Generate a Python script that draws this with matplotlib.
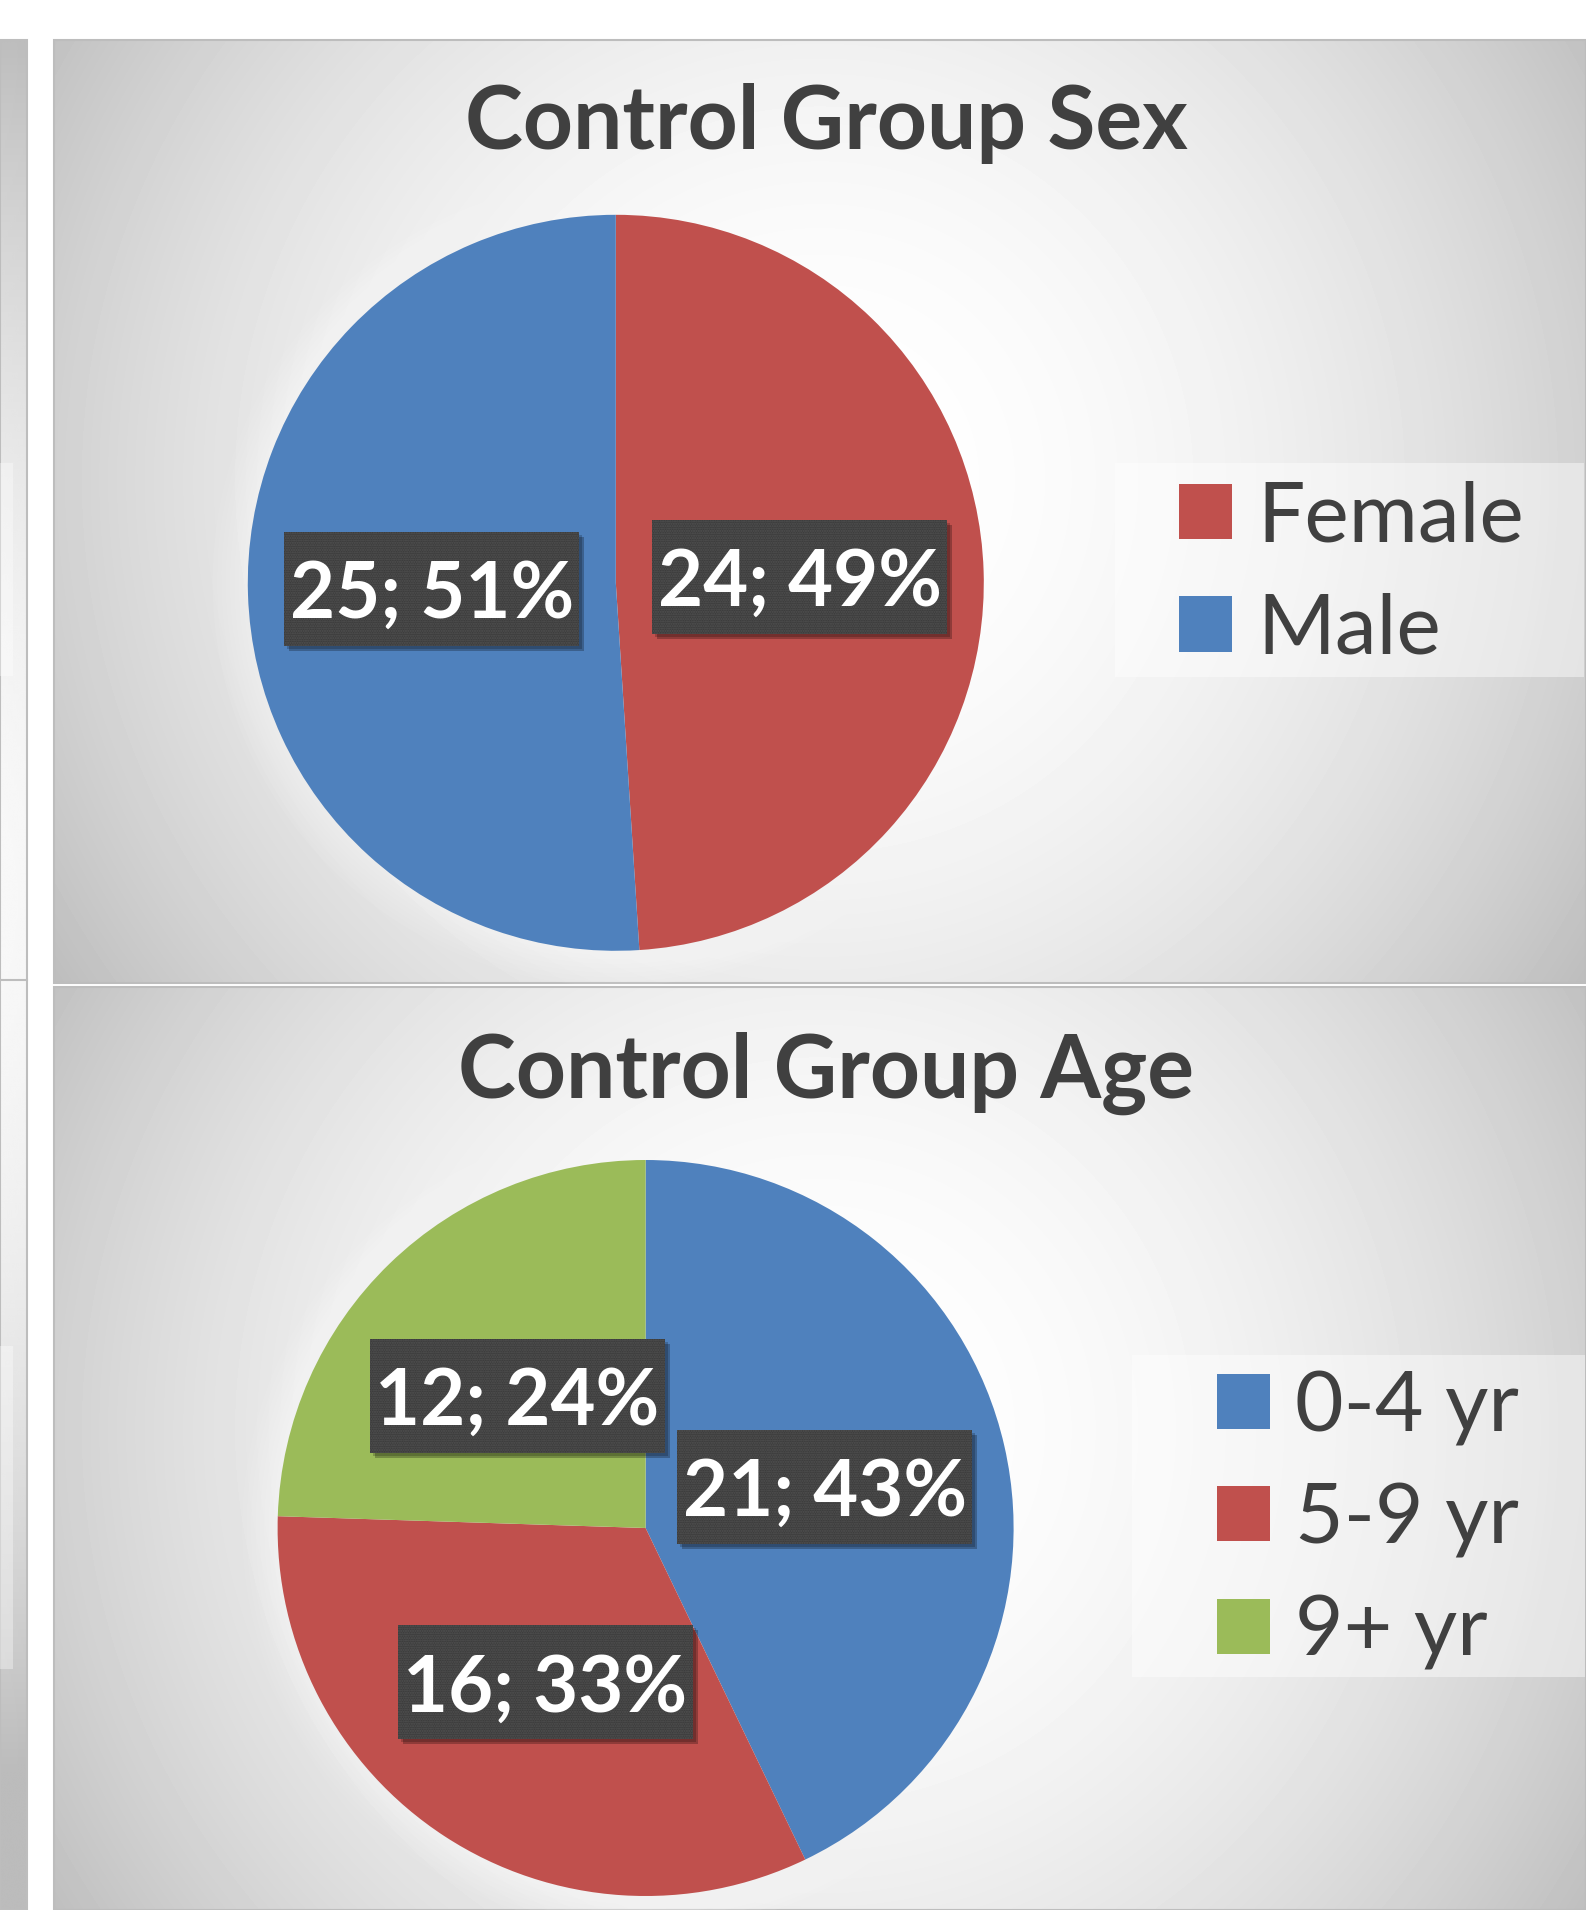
import numpy as np
import matplotlib
matplotlib.use("Agg")
import matplotlib.pyplot as plt
from matplotlib.patches import Rectangle, Circle

# ---------------- data ----------------
sex_categories = ["Female", "Male"]
sex_counts = [24, 25]
sex_colors = ["#C0504D", "#4F81BD"]

age_categories = ["0-4 yr", "5-9 yr", "9+ yr"]
age_counts = [21, 16, 12]
age_colors = ["#4F81BD", "#C0504D", "#9BBB59"]

titles = ["Control Group Sex", "Control Group Age"]

# ---------------- figure ----------------
W, H = 1586, 1910
DPI = 100
fig = plt.figure(figsize=(W / DPI, H / DPI), dpi=DPI)
fig.patch.set_facecolor("white")
plt.rcParams["hatch.linewidth"] = 1.0

TXT = "#404040"
FONT = ["Lato", "DejaVu Sans"]

# background axes in pixel coordinates
bg = fig.add_axes([0, 0, 1, 1])
bg.set_xlim(0, W)
bg.set_ylim(H, 0)
bg.axis("off")


def gradient_panel(x0, x1, y0, y1, cx, cy):
    xs = np.linspace(x0, x1, 400)
    ys = np.linspace(y0, y1, 250)
    X, Y = np.meshgrid(xs, ys)
    d = np.sqrt((X - cx) ** 2 + (Y - cy) ** 2)
    g = 255 - 61 * (d / 883.0) ** 2
    g = np.clip(g, 188, 255) / 255.0
    bg.imshow(g, cmap="gray", vmin=0, vmax=1, extent=(x0, x1, y1, y0),
              origin="upper", aspect="auto", interpolation="bilinear", zorder=0)
    bg.add_patch(Rectangle((x0, y0), x1 - x0, y1 - y0, fill=False,
                           ec="#bdbdbd", lw=1.5, zorder=1))


# left strip (neighbouring chart)
gradient_panel(0, 27, 40, 1910, -300, 900)
bg.add_patch(Rectangle((0, 463), 13, 213, fc="white", alpha=0.35, ec="none", zorder=1))
bg.add_patch(Rectangle((0, 1346), 13, 323, fc="white", alpha=0.35, ec="none", zorder=1))
bg.plot([0, 27], [980, 980], color="#bdbdbd", lw=1.5, zorder=1)

# main panels
gradient_panel(54, 1586, 40, 983, 820, 480)
gradient_panel(54, 1586, 987, 1910, 820, 1430)

# legend boxes
bg.add_patch(Rectangle((1115, 463), 469, 214, fc="white", alpha=0.45, ec="none", zorder=2))
bg.add_patch(Rectangle((1132, 1355), 453, 322, fc="white", alpha=0.45, ec="none", zorder=2))

# titles
fig.text(826 / W, 1 - 124 / H, titles[0], ha="center", va="center",
         fontsize=63, fontweight="bold", color=TXT, family=FONT)
fig.text(826 / W, 1 - 1073 / H, titles[1], ha="center", va="center",
         fontsize=63, fontweight="bold", color=TXT, family=FONT)

R = 368.0  # pie radius in px


def make_pie(cx, cy, counts, colors, labels, leg_x, leg_y):
    s = 2.4 * R
    ax = fig.add_axes([(cx - s / 2) / W, 1 - (cy + s / 2) / H, s / W, s / H])
    total = sum(counts)

    def fmt(p):
        return f"{int(round(p * total / 100.0))}; {p:.0f}%"

    # soft glow around pie
    for i in range(8):
        ax.add_patch(Circle((0, 0), 1 + 0.012 * (i + 1), fc="white",
                            alpha=0.07, ec="none", zorder=0))
    wedges, texts, autotexts = ax.pie(
        counts, colors=colors, startangle=90, counterclock=False,
        radius=1.0, autopct=fmt, pctdistance=0.5,
        wedgeprops=dict(linewidth=0, edgecolor="none"),
        textprops=dict(color="white", fontsize=56, fontweight="bold", family=FONT))
    ax.set_xlim(-1.2, 1.2)
    ax.set_ylim(-1.2, 1.2)
    ax.set_aspect("equal")
    ax.axis("off")

    bw, bh = 295 / R, 114 / R
    for t in autotexts:
        x, y = t.get_position()
        ax.add_patch(Rectangle((x - bw / 2 + 5 / R, y - bh / 2 - 5 / R), bw, bh,
                               fc="black", alpha=0.25, ec="none", zorder=3))
        ax.add_patch(Rectangle((x - bw / 2 + 3 / R, y - bh / 2 - 3 / R), bw, bh,
                               fc="black", alpha=0.2, ec="none", zorder=3))
        ax.add_patch(Rectangle((x - bw / 2, y - bh / 2), bw, bh,
                               fc="#3c3c3c", ec="#525252", lw=0,
                               hatch=".......", zorder=4))
        t.set_zorder(5)
        t.set_verticalalignment("baseline")
        t.set_position((x, y - 29 / R))

    em = 84.0
    ax.legend(wedges, labels, loc="center left",
              bbox_to_anchor=(leg_x / W, 1 - leg_y / H),
              bbox_transform=fig.transFigure, frameon=False,
              prop=dict(family=FONT, size=em * 72 / DPI),
              labelcolor=TXT, borderpad=0, borderaxespad=0,
              handlelength=53 / em, handleheight=53 / em,
              handletextpad=25 / em, labelspacing=0.43)
    return ax


make_pie(615.8, 582.8, sex_counts, sex_colors, sex_categories, 1179, 574.5)
make_pie(645.6, 1528.0, age_counts, age_colors, age_categories, 1217, 1520.5)

fig.savefig("out.png", dpi=DPI, facecolor="white")
